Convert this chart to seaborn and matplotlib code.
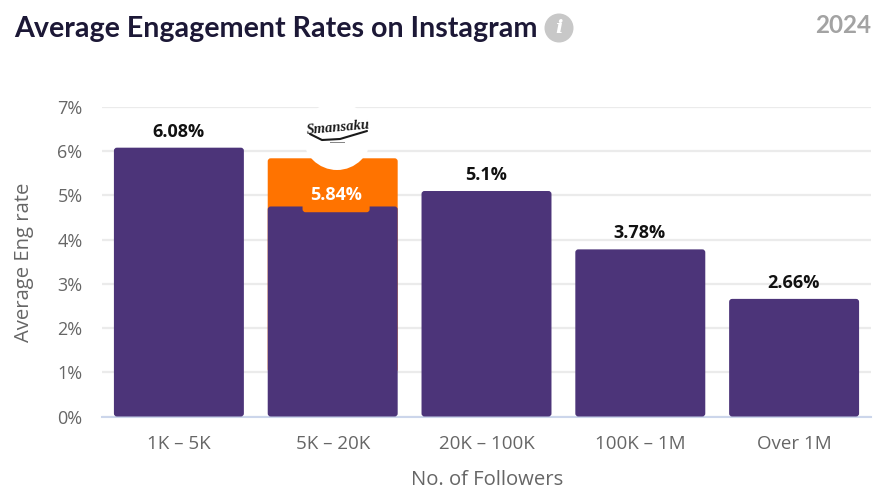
import matplotlib
matplotlib.use("Agg")
import matplotlib.pyplot as plt
import seaborn as sns
import pandas as pd
from matplotlib.patches import FancyBboxPatch, Circle, Rectangle

categories = ["1K – 5K", "5K – 20K", "20K – 100K", "100K – 1M", "Over 1M"]
rates = [6.08, 5.84, 5.1, 3.78, 2.66]
value_labels = ["6.08%", "5.84%", "5.1%", "3.78%", "2.66%"]
highlight_split = 4.75
highlight_index = 1
y_ticks = [0, 1, 2, 3, 4, 5, 6, 7]

PURPLE = "#4c3479"
ORANGE = "#ff7300"
W, H = 875, 491

sns.set_theme(style="white")
plt.rcParams["font.family"] = ["Open Sans", "DejaVu Sans"]

fig = plt.figure(figsize=(W / 100, H / 100), dpi=100, facecolor="white")
ax = fig.add_axes([102 / W, 1 - 416.5 / H, 769 / W, 309.5 / H])

df = pd.DataFrame({"followers": categories, "rate": rates})
sns.barplot(data=df, x="followers", y="rate", color=PURPLE, saturation=1,
            width=0.845, ax=ax, zorder=3)

ax.set_xlim(-0.5, 4.5)
ax.set_ylim(0, 7)
ax.set_yticks(y_ticks)
ax.set_yticklabels([f"{t}%" for t in y_ticks])
ax.grid(axis="y", color="#ebebeb", lw=1.6, zorder=0)
ax.set_axisbelow(True)
for side in ["top", "right", "left"]:
    ax.spines[side].set_visible(False)
ax.spines["bottom"].set_color("#ccd6eb")
ax.spines["bottom"].set_linewidth(1.5)
ax.spines["bottom"].set_zorder(2)
ax.tick_params(axis="both", length=0, labelcolor="#666666")
ax.tick_params(axis="x", pad=13, labelsize=13.5)
ax.tick_params(axis="y", pad=14, labelsize=13)
ax.set_xlabel("")
ax.set_ylabel("")


def rounded(x, w, y0, y1, color, zorder):
    # Rounded rectangle given in data units, with a corner radius of about 3 px
    sx = 153.8
    sy = 309.5 / 7
    p = FancyBboxPatch((x + 3 / sx, y0 + 3 / sy), w - 6 / sx, (y1 - y0) - 6 / sy,
                       boxstyle=f"round,pad={3 / sx},rounding_size={3 / sx}",
                       mutation_aspect=sx / sy, fc=color, ec="none", zorder=zorder)
    ax.add_patch(p)


# Swap the square bars for rounded ones, keeping the geometry seaborn computed
bars = list(ax.patches)
for i, bar in enumerate(bars):
    x, w, h = bar.get_x(), bar.get_width(), bar.get_height()
    bar.set_visible(False)
    if i == highlight_index:
        rounded(x, w, 1, h, ORANGE, 3)
        rounded(x, w, 0, highlight_split, PURPLE, 4)
        rounded(i - 0.196, 0.436, highlight_split - 0.13, 5.3, ORANGE, 5)
        ax.text(i + 0.025, h - 0.84, value_labels[i], ha="center", va="center",
                fontsize=13, fontweight="bold", color="white", zorder=7)
    else:
        rounded(x, w, 0, h, PURPLE, 3)
        ax.text(i - 0.005, h + 0.36, value_labels[i], ha="center", va="center",
                fontsize=13, fontweight="bold", color="#111111", zorder=7)

# Pixel-addressed layer for the heading, info badge and logo
top = fig.add_axes([0, 0, 1, 1], facecolor="none")
top.set_xlim(0, W)
top.set_ylim(H, 0)
top.axis("off")

top.text(14, 29, "Average Engagement Rates on Instagram", fontsize=20.6,
         fontweight="bold", color="#1c1836", va="center", ha="left",
         family=["Lato", "DejaVu Sans"])
top.add_patch(Circle((559, 28), 14.5, fc="#c8c8c8", ec="none"))
top.text(559, 28, "i", fontsize=14, fontweight="bold", style="italic", color="white",
         ha="center", va="center", family="DejaVu Serif")
top.text(871, 25, "2024", fontsize=17.5, fontweight="bold", color="#a3a3a3",
         ha="right", va="center", family=["Lato", "DejaVu Sans"])

top.text(24, 262, "Average Eng rate", rotation=90, fontsize=14.6, color="#666666",
         ha="center", va="center")
top.text(487, 480, "No. of Followers", fontsize=14.6, color="#666666",
         ha="center", va="center")

# Circular logo badge sitting on top of the highlighted bar
top.add_patch(Circle((337, 136), 34, fc="white", ec="none", zorder=5))
top.text(338, 128, "Smansaku", fontsize=10.5, fontweight="bold", style="italic",
         family="Liberation Serif", color="#1a1a1a", rotation=5, ha="center",
         va="center", zorder=6)
top.plot([310, 322, 340, 367], [134, 140, 139, 131], color="#1a1a1a", lw=1.5,
         solid_capstyle="round", zorder=6)
top.add_patch(Rectangle((330, 142), 15, 1, fc="#888888", ec="none", zorder=6))

fig.savefig("out.png", dpi=100)
